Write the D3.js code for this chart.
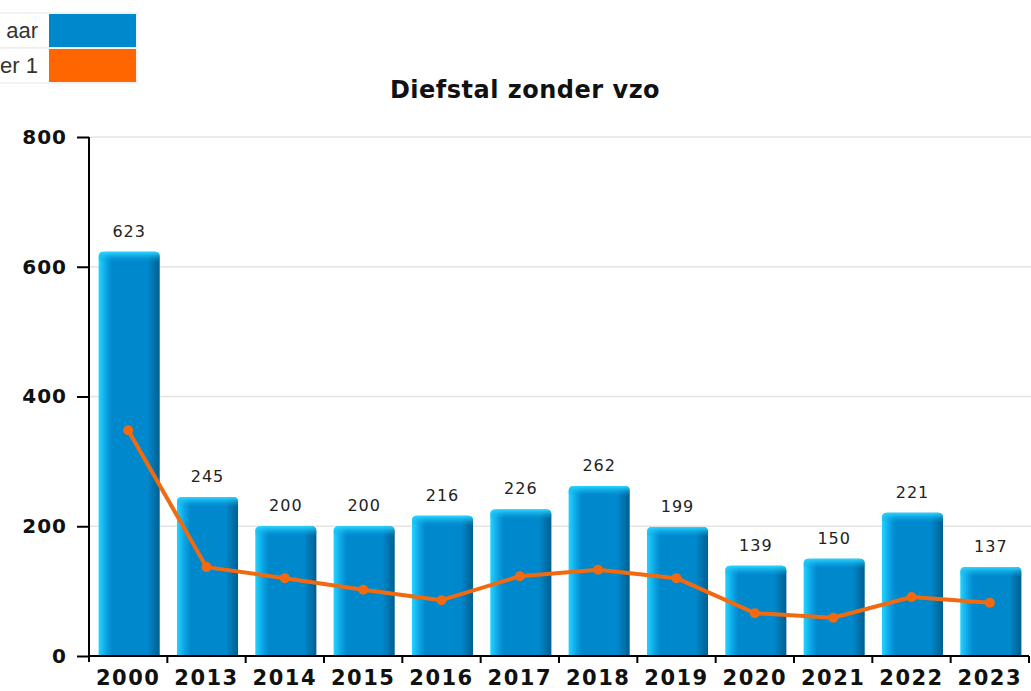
<!DOCTYPE html>
<html>
<head>
<meta charset="utf-8">
<script src="https://cdn.jsdelivr.net/npm/d3@7"></script>
<style>
  body { margin: 0; background: #fff; }
  svg { display: block; }
</style>
</head>
<body>
<div id="wrapper"></div>
<script>
// chart data
const years = ["2000", "2013", "2014", "2015", "2016", "2017", "2018", "2019", "2020", "2021", "2022", "2023"]
const perYear = [623, 245, 200, 200, 216, 226, 262, 199, 139, 150, 221, 137]
const avgLine = [348, 137, 120, 102, 86, 123, 133, 120, 66, 59, 91, 82]
const yTicks = [0, 200, 400, 600, 800]
const legendLabels = ["aar", "er 1"]

const dms = {
  width: 1031,
  height: 691,
  margin: { top: 137, right: 2, bottom: 35, left: 89 },
}
dms.boundedWidth = dms.width - dms.margin.left - dms.margin.right
dms.boundedHeight = dms.height - dms.margin.top - dms.margin.bottom

const svg = d3.select("#wrapper")
  .append("svg")
  .attr("width", dms.width)
  .attr("height", dms.height)

// gradients for the bars
const defs = svg.append("defs")
const sideGrad = defs.append("linearGradient")
  .attr("id", "barSide")
  .attr("x1", "0").attr("x2", "1").attr("y1", "0").attr("y2", "0")
sideGrad.append("stop").attr("offset", "0%").attr("stop-color", "#22d4ff")
sideGrad.append("stop").attr("offset", "14%").attr("stop-color", "#0a9ee0")
sideGrad.append("stop").attr("offset", "22%").attr("stop-color", "#0088cc")
sideGrad.append("stop").attr("offset", "80%").attr("stop-color", "#0088cc")
sideGrad.append("stop").attr("offset", "100%").attr("stop-color", "#005f8f")

const topGrad = defs.append("linearGradient")
  .attr("id", "barTop")
  .attr("x1", "0").attr("x2", "0").attr("y1", "0").attr("y2", "1")
topGrad.append("stop").attr("offset", "0%").attr("stop-color", "#2ad8ff")
topGrad.append("stop").attr("offset", "100%").attr("stop-color", "#0a9ee0").attr("stop-opacity", 0)

const bounds = svg.append("g")
  .attr("transform", `translate(${dms.margin.left},${dms.margin.top})`)

// scales
const xScale = d3.scaleBand()
  .domain(years)
  .range([0, 940])
  .paddingInner(0.22)
  .paddingOuter(0.11)

const band = d3.scaleBand().domain(years).range([0, 940])

const yScale = d3.scaleLinear()
  .domain([0, 800])
  .range([dms.boundedHeight, 0])

// grid
bounds.append("g")
  .selectAll("line")
  .data(yTicks.filter(d => d > 0))
  .join("line")
  .attr("x1", 0)
  .attr("x2", dms.width - dms.margin.left)
  .attr("y1", d => yScale(d))
  .attr("y2", d => yScale(d))
  .attr("stroke", "#e4e4e4")
  .attr("stroke-width", 1.5)

// bars
const barGroups = bounds.append("g")
  .selectAll("g")
  .data(years.map((y, i) => ({ year: y, value: perYear[i] })))
  .join("g")

barGroups.append("path")
  .attr("d", d => {
    const x = xScale(d.year) + 1, w = xScale.bandwidth(), y = yScale(d.value), h = dms.boundedHeight - y, r = 5
    return `M${x},${y + h}V${y + r}Q${x},${y} ${x + r},${y}H${x + w - r}Q${x + w},${y} ${x + w},${y + r}V${y + h}Z`
  })
  .attr("fill", "url(#barSide)")

barGroups.append("path")
  .attr("d", d => {
    const x = xScale(d.year) + 1, w = xScale.bandwidth(), y = yScale(d.value), r = 5
    return `M${x},${y + 10}V${y + r}Q${x},${y} ${x + r},${y}H${x + w - r}Q${x + w},${y} ${x + w},${y + r}V${y + 10}Z`
  })
  .attr("fill", "url(#barTop)")

barGroups.append("text")
  .attr("x", d => xScale(d.year) + 1 + xScale.bandwidth() / 2)
  .attr("y", d => yScale(d.value) - 15)
  .attr("text-anchor", "middle")
  .attr("font-family", "DejaVu Sans")
  .attr("font-size", 16)
  .attr("letter-spacing", 1)
  .attr("fill", "#222")
  .text(d => d.value)

// average line
const lineGen = d3.line()
  .x((d, i) => band(years[i]) + band.bandwidth() / 2)
  .y(d => yScale(d))

bounds.append("path")
  .datum(avgLine)
  .attr("d", lineGen)
  .attr("fill", "none")
  .attr("stroke", "#f26a10")
  .attr("stroke-width", 4)
  .attr("stroke-linejoin", "round")

bounds.append("g")
  .selectAll("circle")
  .data(avgLine)
  .join("circle")
  .attr("cx", (d, i) => band(years[i]) + band.bandwidth() / 2)
  .attr("cy", d => yScale(d))
  .attr("r", 5)
  .attr("fill", "#f26a10")

// y axis
const yAxis = bounds.append("g")
  .call(d3.axisLeft(yScale).tickValues(yTicks).tickSize(12).tickPadding(10))
yAxis.select(".domain").attr("stroke", "#000").attr("stroke-width", 2).attr("d", `M0,0V${dms.boundedHeight + 6}`)
yAxis.selectAll(".tick line").attr("stroke", "#000").attr("stroke-width", 2)
yAxis.selectAll("text")
  .attr("font-family", "DejaVu Sans")
  .attr("font-weight", "bold")
  .attr("font-size", 20)
  .attr("letter-spacing", 1)
  .attr("fill", "#111")

// x axis
const xAxis = bounds.append("g")
  .attr("transform", `translate(0,${dms.boundedHeight})`)
xAxis.append("line")
  .attr("x1", 0).attr("x2", 940)
  .attr("stroke", "#000").attr("stroke-width", 2)
xAxis.selectAll(".xtick")
  .data(years.slice(1).concat(["end"]))
  .join("line")
  .attr("x1", (d, i) => band(years[i]) + band.step())
  .attr("x2", (d, i) => band(years[i]) + band.step())
  .attr("y1", 0).attr("y2", 7)
  .attr("stroke", "#000").attr("stroke-width", 2)
xAxis.selectAll("text")
  .data(years)
  .join("text")
  .attr("x", d => band(d) + band.bandwidth() / 2)
  .attr("y", 29)
  .attr("text-anchor", "middle")
  .attr("font-family", "DejaVu Sans")
  .attr("font-weight", "bold")
  .attr("font-size", 21)
  .attr("letter-spacing", 1.5)
  .attr("fill", "#111")
  .text(d => d)

// title
svg.append("text")
  .attr("x", 525)
  .attr("y", 98)
  .attr("text-anchor", "middle")
  .attr("font-family", "DejaVu Sans")
  .attr("font-weight", "bold")
  .attr("font-size", 24)
  .attr("letter-spacing", 0.5)
  .attr("fill", "#111")
  .text("Diefstal zonder vzo")

// legend (partly off the left edge)
const legendColors = ["#0088cc", "#ff6600"]
const legend = svg.append("g")
legend.selectAll("rect.bg")
  .data(legendLabels)
  .join("rect")
  .attr("x", -2).attr("y", (d, i) => 13 + i * 35)
  .attr("width", 139).attr("height", 35)
  .attr("fill", "#fff").attr("stroke", "#e6e6e6")
legend.selectAll("rect.sw")
  .data(legendColors)
  .join("rect")
  .attr("x", 49).attr("y", (d, i) => 14 + i * 35)
  .attr("width", 87).attr("height", 33)
  .attr("fill", d => d)
legend.selectAll("text")
  .data(legendLabels)
  .join("text")
  .attr("x", 38).attr("y", (d, i) => 38 + i * 35)
  .attr("text-anchor", "end")
  .attr("font-family", "Liberation Sans")
  .attr("font-size", 22)
  .attr("fill", "#333")
  .text(d => d)
</script>
</body>
</html>
